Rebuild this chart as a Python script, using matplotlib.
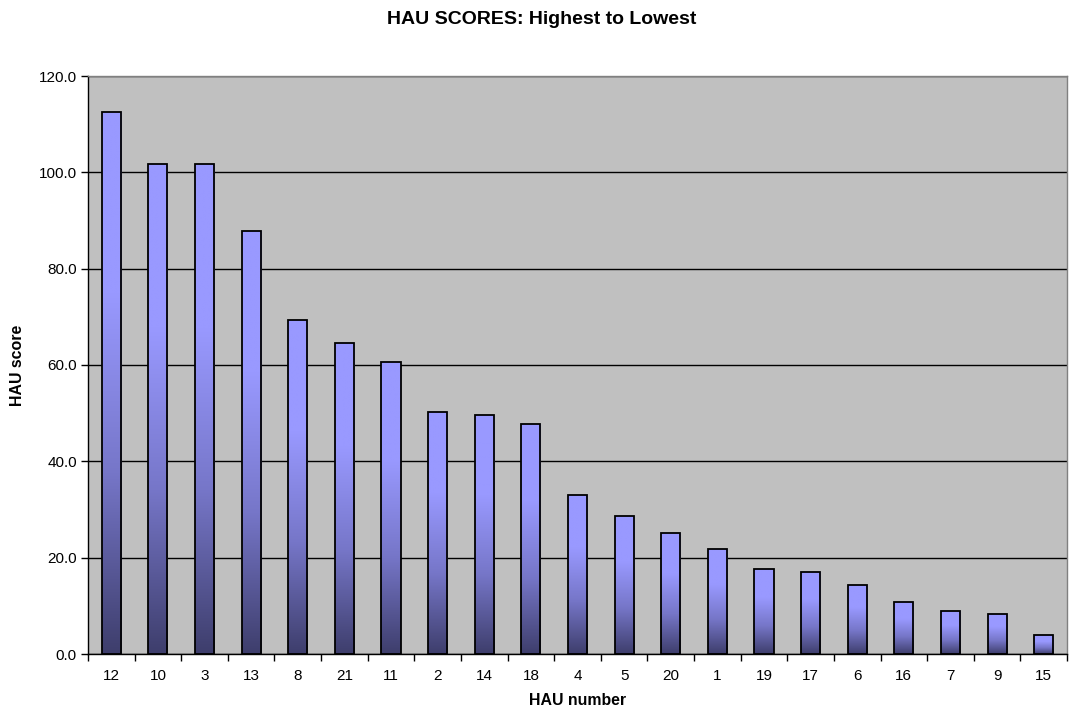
import numpy as np
import matplotlib
matplotlib.use("Agg")
import matplotlib.pyplot as plt
from matplotlib.colors import LinearSegmentedColormap

# HAU scores, sorted highest to lowest
hau_numbers = ["12", "10", "3", "13", "8", "21", "11", "2", "14", "18", "4",
               "5", "20", "1", "19", "17", "6", "16", "7", "9", "15"]
hau_scores = [112.5, 101.8, 101.7, 87.8, 69.4, 64.6, 60.6, 50.2, 49.6, 47.7, 33.1,
              28.7, 25.1, 21.7, 17.6, 17.0, 14.4, 10.8, 8.9, 8.4, 3.9]
y_ticks = [0, 20, 40, 60, 80, 100, 120]

plt.rcParams["font.family"] = ["Liberation Sans", "DejaVu Sans"]

fig = plt.figure(figsize=(10.77, 7.15), dpi=100)
ax = fig.add_axes([88 / 1077, 1 - 654 / 715, (1067 - 88) / 1077, (654 - 76) / 715])
ax.set_facecolor("#C0C0C0")

x = np.arange(len(hau_numbers))
width = 0.41
bars = ax.bar(x, hau_scores, width=width, facecolor="none", edgecolor="black",
              linewidth=1.3, zorder=3)

# vertical gradient inside each bar: light on top, dark navy at the base
cmap = LinearSegmentedColormap.from_list("hau", ["#3E3E6C", "#7676C8", "#9999FF", "#9999FF"])
grad = np.linspace(0, 1, 256).reshape(-1, 1)
for b in bars:
    x0, h = b.get_x(), b.get_height()
    im = ax.imshow(grad, cmap=cmap, aspect="auto", origin="lower",
                   extent=[x0, x0 + width, 0, h], zorder=2, interpolation="bilinear")
    im.set_clip_path(b)

ax.set_xlim(-0.5, len(hau_numbers) - 0.5)
ax.set_ylim(0, 120)
ax.set_yticks(y_ticks)
ax.set_yticklabels([f"{v:.1f}" for v in y_ticks], fontsize=11)
ax.set_xticks(x)
ax.set_xticklabels(hau_numbers, fontsize=11)
ax.set_xticks(np.arange(len(hau_numbers) + 1) - 0.5, minor=True)
ax.tick_params(axis="x", which="major", length=0, pad=11)
ax.tick_params(axis="x", which="minor", length=5, width=1, direction="out")
ax.tick_params(axis="y", length=5, width=1, direction="out", pad=3)
ax.yaxis.grid(True, color="black", linewidth=1)
ax.set_axisbelow(True)

for side in ("top", "right"):
    ax.spines[side].set_color("#808080")
    ax.spines[side].set_linewidth(1)
for side in ("left", "bottom"):
    ax.spines[side].set_color("black")
    ax.spines[side].set_linewidth(1)

ax.set_xlabel("HAU number", fontsize=11.4, fontweight="bold", labelpad=7)
ax.set_ylabel("HAU score", fontsize=11.4, fontweight="bold", labelpad=10)
fig.text(542 / 1077, 1 - 19 / 715, "HAU SCORES: Highest to Lowest", ha="center", va="center",
         fontsize=14, fontweight="bold")

fig.savefig("out.png", dpi=100)
